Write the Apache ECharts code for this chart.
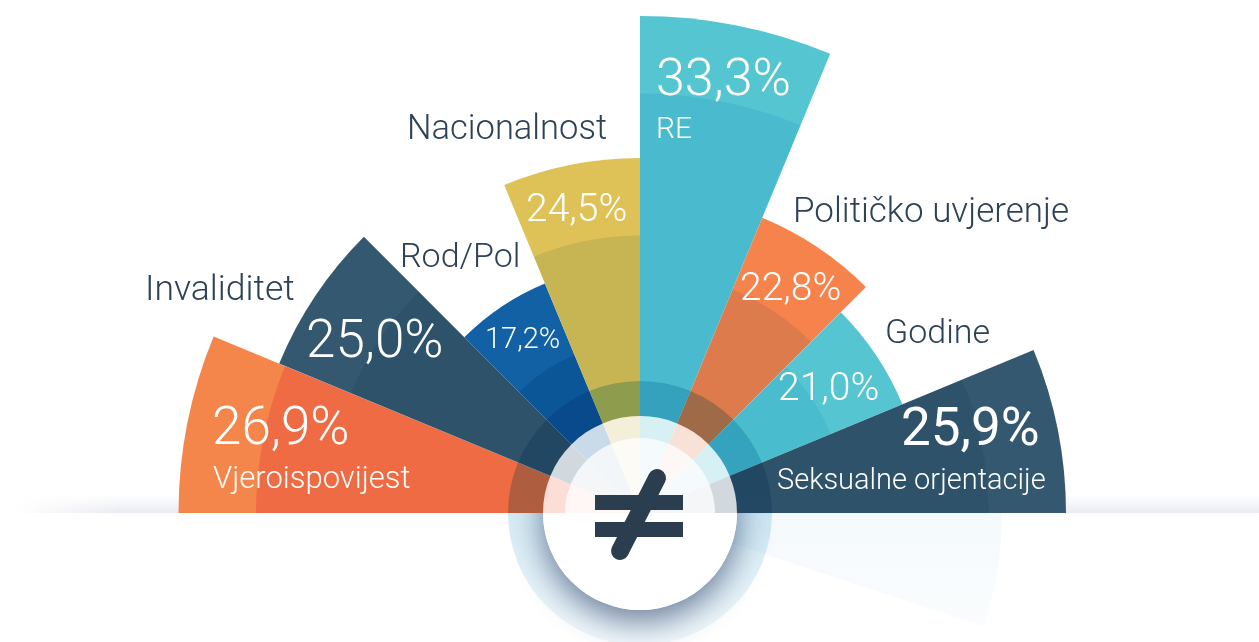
<!DOCTYPE html>
<html><head><meta charset="utf-8">
<script src="https://cdn.jsdelivr.net/npm/echarts@6/dist/echarts.min.js"></script>
<style>html,body{margin:0;padding:0;background:#fff;overflow:hidden}#c{width:1259px;height:642px}</style>
</head><body><div id="c"></div>
<script>
// ---- data ----
const categories = ['Vjeroispovijest','Invaliditet','Rod/Pol','Nacionalnost','RE','Političko uvjerenje','Godine','Seksualne orjentacije'];
const values = [26.9, 25.0, 17.2, 24.5, 33.3, 22.8, 21.0, 25.9];
const innerColors = ['#ef6b44','#2f526b','#0b5697','#c7b554','#4abbce','#de7b4d','#49bccd','#2f526b'];
const outerColors = ['#f4864c','#34586f','#1261a5','#dfc257','#56c5d2','#f5834b','#55c5d1','#34586f'];

// ---- layout / style ----
const CX = 640, CY = 513, R = 497;
const FONT = 'Roboto, "Noto Sans", sans-serif';
const DARK = '#2d4256';
// sector length encodes the rank of each value (equal radial steps)
const ranks = values.map(v => values.filter(w => w < v).length);
const BASE = 7, AXMAX = 14;
const fmt = v => v.toFixed(1).replace('.', ',') + '%';

const labelLayout = [
  {vx:212, vy:431, vs:53, vw:300, nx:213, ny:480, ns:31, inside:true},
  {vx:306, vy:344, vs:53, vw:300, nx:145, ny:291, ns:35.5},
  {vx:485, vy:341, vs:29, vw:300, nx:400, ny:258, ns:34},
  {vx:526, vy:211, vs:39, vw:300, nx:407, ny:130, ns:34.5},
  {vx:656, vy:82,  vs:52, vw:300, nx:656, ny:130, ns:30, inside:true},
  {vx:740, vy:290, vs:39, vw:300, nx:793, ny:213, ns:35},
  {vx:778, vy:390, vs:39, vw:300, nx:885, ny:334, ns:34},
  {vx:901, vy:432, vs:53, vw:400, nx:777, ny:482, ns:29, inside:true}
];

const barData = values.map((v, i) => {
  const rOuter = R * (ranks[i] + BASE) / AXMAX;
  const f = Math.max(0, (rOuter - 78) / R);
  return {
    value: ranks[i] + BASE,
    itemStyle: {
      color: {
        type: 'radial', x: CX, y: CY, r: R, global: true,
        colorStops: [
          {offset: 0, color: innerColors[i]},
          {offset: f, color: innerColors[i]},
          {offset: f + 0.002, color: outerColors[i]},
          {offset: 1, color: outerColors[i]}
        ]
      }
    }
  };
});

const texts = [];
values.forEach((v, i) => {
  const L = labelLayout[i];
  texts.push({type:'text', z:20, style:{text: fmt(v), x:L.vx, y:L.vy, font:L.vw+' '+L.vs+'px '+FONT, fill:'#ffffff', align:'left', verticalAlign:'middle'}});
  texts.push({type:'text', z:20, style:{text: categories[i], x:L.nx, y:L.ny, font:'300 '+L.ns+'px '+FONT, fill: L.inside ? '#ffffff' : DARK, align:'left', verticalAlign:'middle'}});
});

const G = echarts.graphic;
const decor = [
  // floor shadow band
  {type:'rect', z:0, shape:{x:0, y:494, width:1259, height:19},
   style:{fill: new G.LinearGradient(0, 494, 0, 513, [{offset:0,color:'rgba(228,229,238,0)'},{offset:1,color:'rgba(218,220,232,0.6)'}], true)}},
  {type:'rect', z:0, shape:{x:0, y:494, width:120, height:20},
   style:{fill: new G.LinearGradient(0, 0, 120, 0, [{offset:0,color:'rgba(255,255,255,1)'},{offset:0.12,color:'rgba(255,255,255,1)'},{offset:1,color:'rgba(255,255,255,0)'}], true)}},
  // faint reflection
  {type:'sector', z:0, shape:{cx:CX, cy:CY, r0:0, r:362, startAngle:0, endAngle:0.32, clockwise:true},
   style:{fill: new G.LinearGradient(0, 513, 0, 642, [{offset:0,color:'rgba(222,238,247,0.35)'},{offset:1,color:'rgba(236,245,250,0.2)'}], true)}},
  // shadow under the centre disc
  {type:'circle', z:1, shape:{cx:CX, cy:CY, r:97},
   style:{fill:'#ffffff', shadowBlur:32, shadowOffsetY:12, shadowColor:'rgba(30,50,95,0.6)'}},
  // tinted ring round the disc
  {type:'ring', z:5, shape:{cx:CX, cy:CY, r:132, r0:97},
   style:{blend:'multiply', fill: new G.LinearGradient(0, 381, 0, 645, [
     {offset:0, color:'#b4dbea'}, {offset:0.499, color:'#bcdfec'},
     {offset:0.503, color:'#d4eaf4'}, {offset:1, color:'#f2f9fc'}], true)}},
  // translucent white disc
  {type:'circle', z:6, shape:{cx:CX, cy:CY, r:97}, style:{fill:'rgba(255,255,255,0.78)'}},
  {type:'circle', z:6, shape:{cx:CX, cy:CY, r:75}, style:{fill:'rgba(255,255,255,0.75)'}},
  // not-equal sign
  {type:'rect', z:8, shape:{x:595, y:495, width:88, height:15}, style:{fill:'#2b3e50'}},
  {type:'rect', z:8, shape:{x:595, y:522, width:88, height:15}, style:{fill:'#2b3e50'}},
  {type:'line', z:8, shape:{x1:657, y1:478, x2:620, y2:551}, style:{stroke:'#2b3e50', lineWidth:18, lineCap:'round'}}
];

const chart = echarts.init(document.getElementById('c'), null, {renderer:'canvas'});
chart.setOption({
  animation: false,
  backgroundColor: '#ffffff',
  polar: {center:[CX, CY], radius:[0, R]},
  angleAxis: {type:'category', data: categories, startAngle:180, endAngle:0, clockwise:true, show:false},
  radiusAxis: {type:'value', min:0, max:AXMAX, show:false},
  series: [{
    type:'bar', coordinateSystem:'polar', barCategoryGap:'0%', z:2,
    data: barData
  }],
  graphic: {elements: decor.concat(texts)}
});
</script>
</body></html>
